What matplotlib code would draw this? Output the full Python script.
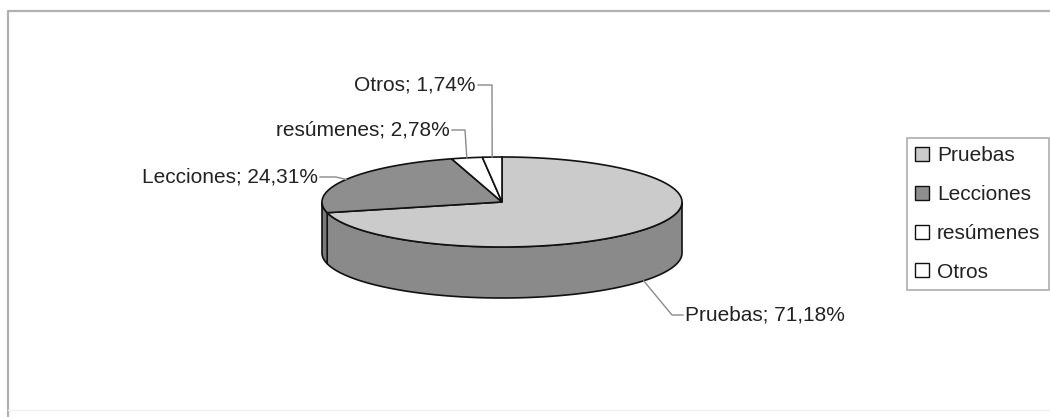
import numpy as np
import matplotlib
matplotlib.use('Agg')
import matplotlib.pyplot as plt
from matplotlib.patches import Patch, Polygon

plt.rcParams['font.family'] = ['Liberation Sans', 'DejaVu Sans']

# data
categories = ['Pruebas', 'Lecciones', 'resúmenes', 'Otros']
values = [71.18, 24.31, 2.78, 1.74]
labels = ['Pruebas; 71,18%', 'Lecciones; 24,31%', 'resúmenes; 2,78%', 'Otros; 1,74%']

top_colors = ['#cbcbcb', '#8e8e8e', '#ffffff', '#ffffff']
side_colors = ['#8a8a8a', '#7a7a7a', '#e0e0e0', '#e0e0e0']

W, H = 1050, 417
fig = plt.figure(figsize=(W / 100, H / 100), dpi=100)
ax = fig.add_axes([0, 0, 1, 1])
ax.set_xlim(0, W)
ax.set_ylim(H, 0)
ax.axis('off')

# pie geometry (pixels)
cx, cy = 502, 202
rx, ry = 180, 45
depth = 51


def pt(t, dz=0):
    t = np.radians(t)
    return cx + rx * np.cos(t), cy - ry * np.sin(t) + dz


# slice angles: start at 12 o'clock, clockwise
fr = np.array(values) / sum(values)
ends = 90 - 360 * np.cumsum(fr)
starts = np.concatenate([[90], ends[:-1]])

# side walls (visible front half: 180..360 deg)
for i in range(len(values)):
    a0, a1 = ends[i] % 360, starts[i] % 360
    if a1 <= a0:
        a1 += 360
    lo = max(a0, 180)
    hi = min(a1, 360)
    if hi <= lo:
        lo = max(a0 - 360, 180)
        hi = min(a1 - 360, 360)
        if hi <= lo:
            continue
    ts = np.linspace(lo, hi, 120)
    xs, ys = pt(ts)
    xb, yb = pt(ts[::-1], depth)
    poly = np.column_stack([np.concatenate([xs, xb]), np.concatenate([ys, yb])])
    ax.add_patch(Polygon(poly, closed=True, facecolor=side_colors[i],
                         edgecolor='#111111', lw=1.2, zorder=2))

# top slices
for i in range(len(values)):
    ts = np.linspace(starts[i], ends[i], 200)
    xs, ys = pt(ts)
    poly = np.column_stack([np.concatenate([[cx], xs]), np.concatenate([[cy], ys])])
    ax.add_patch(Polygon(poly, closed=True, facecolor=top_colors[i],
                         edgecolor='#111111', lw=1.2, zorder=3))

# label leaders and text
txt = dict(fontsize=15, color='#222222', zorder=5)
lead = dict(color='#8a8a8a', lw=1.0, zorder=4)
mids = (starts + ends) / 2

# Pruebas (right, below)
ex, ey = pt(mids[0], depth)
ax.plot([ex, 672, 683], [ey, 315, 315], **lead)
ax.text(685, 315, labels[0], ha='left', va='center', **txt)

# Lecciones (left)
ex, ey = pt(mids[1])
ax.plot([320, 336, ex], [177, 177, ey], **lead)
ax.text(318, 177, labels[1], ha='right', va='center', **txt)

# resúmenes
ex, ey = pt(mids[2])
ax.plot([452, 465, ex], [130, 130, ey], **lead)
ax.text(450, 130, labels[2], ha='right', va='center', **txt)

# Otros
ex, ey = pt(mids[3])
ax.plot([478, 492, ex], [85, 85, ey], **lead)
ax.text(476, 85, labels[3], ha='right', va='center', **txt)

# outer frame
ax.plot([7.5, 7.5, W], [H, 10.5, 10.5], color='#b0b0b0', lw=1.6, zorder=1)
ax.plot([7.5, W], [410, 410], color='#f0f0f0', lw=1.0, zorder=1)

# legend
handles = [Patch(facecolor=top_colors[i], edgecolor='#111111', lw=1.0)
           for i in range(len(categories))]
leg = fig.legend(handles, categories, loc='upper left',
                 bbox_to_anchor=(907 / W, 1 - 138 / H), frameon=True,
                 fancybox=False, shadow=False, fontsize=15,
                 handlelength=0.65, handleheight=0.65, handletextpad=0.38,
                 labelspacing=0.95, borderpad=0.4, borderaxespad=0)
leg.get_frame().set_edgecolor('#999999')
leg.get_frame().set_linewidth(1.2)
for t in leg.get_texts():
    t.set_color('#222222')

fig.savefig('out.png', dpi=100)
